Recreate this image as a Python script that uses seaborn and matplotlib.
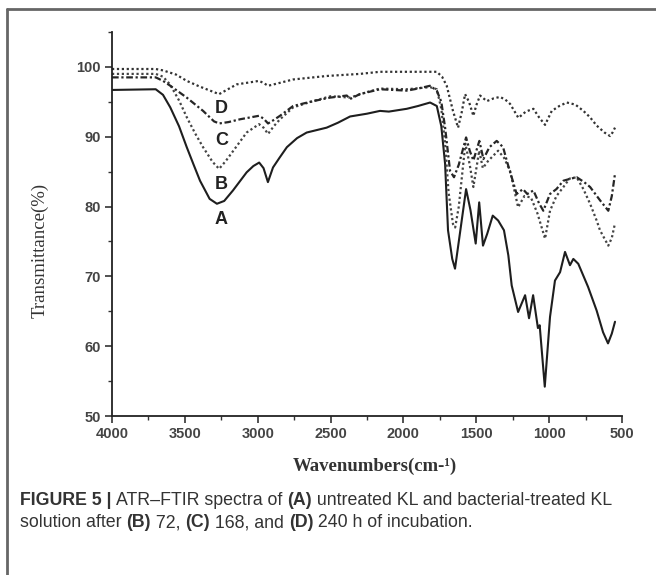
import matplotlib
matplotlib.use("Agg")
import matplotlib.pyplot as plt
from matplotlib.lines import Line2D
from matplotlib.ticker import MultipleLocator
import seaborn as sns
import pandas as pd

# spectrum A: untreated KL
wn_a = [4000, 3700, 3650, 3600, 3540, 3487, 3440, 3396, 3330, 3280, 3230, 3170, 3076, 3030,
        2990, 2960, 2930, 2895, 2850, 2800, 2730, 2664, 2527, 2450, 2366, 2250, 2161, 2100,
        1977, 1900, 1817, 1771, 1740, 1714, 1694, 1665, 1646, 1610, 1570, 1540, 1504, 1480,
        1454, 1425, 1387, 1350, 1310, 1280, 1257, 1213, 1165, 1138, 1110, 1077, 1065, 1030,
        994, 960, 925, 891, 857, 834, 800, 733, 674, 630, 596, 570, 548]
t_a = [96.7, 96.8, 96.0, 94.2, 91.5, 88.5, 86.0, 83.7, 81.1, 80.4, 80.8, 82.3, 84.9, 85.8,
       86.3, 85.5, 83.5, 85.6, 87.0, 88.5, 89.8, 90.6, 91.3, 92.0, 92.9, 93.3, 93.7, 93.6,
       94.0, 94.4, 94.9, 94.4, 91.5, 86.1, 76.6, 72.5, 71.1, 76.5, 82.5, 79.5, 74.7, 80.6,
       74.4, 76.1, 78.7, 78.0, 76.6, 73.0, 68.7, 64.9, 67.3, 64.0, 67.3, 62.6, 63.0, 54.2,
       64.2, 69.4, 70.6, 73.5, 71.6, 72.5, 71.8, 68.5, 65.1, 62.0, 60.4, 61.8, 63.5]

# spectrum B: 72 h
wn_b = [4000, 3700, 3650, 3602, 3540, 3487, 3430, 3375, 3310, 3265, 3220, 3167, 3076, 2991,
        2960, 2929, 2890, 2847, 2757, 2620, 2500, 2366, 2250, 2161, 1977, 1817, 1771, 1740,
        1714, 1690, 1660, 1645, 1620, 1575, 1545, 1520, 1480, 1455, 1420, 1350, 1310, 1268,
        1213, 1170, 1125, 1080, 1028, 994, 950, 902, 860, 811, 765, 719, 674, 651, 594, 570, 548]
t_b = [99.0, 99.0, 98.6, 97.5, 95.2, 92.8, 90.5, 88.5, 86.4, 85.4, 86.5, 88.0, 90.6, 91.8,
       91.3, 90.4, 91.5, 92.5, 94.2, 95.1, 95.8, 95.6, 96.4, 96.9, 96.8, 97.1, 96.8, 94.0,
       89.0, 82.0, 77.5, 77.0, 80.0, 89.0, 86.0, 82.8, 88.0, 85.5, 86.5, 88.0, 87.0, 85.1,
       79.9, 81.5, 81.3, 79.0, 75.4, 79.4, 81.5, 82.8, 84.0, 84.2, 82.5, 80.4, 78.0, 76.6,
       74.4, 75.5, 77.6]

# spectrum C: 168 h
wn_c = [4000, 3700, 3650, 3600, 3487, 3375, 3300, 3265, 3200, 3121, 2991, 2960, 2929, 2890,
        2847, 2757, 2620, 2504, 2389, 2366, 2300, 2161, 1977, 1900, 1817, 1771, 1740, 1714,
        1680, 1653, 1620, 1570, 1545, 1520, 1479, 1451, 1410, 1360, 1316, 1290, 1257, 1223,
        1180, 1150, 1108, 1070, 1040, 994, 950, 902, 850, 811, 760, 719, 651, 594, 570, 548]
t_c = [98.5, 98.5, 98.0, 97.3, 95.6, 93.7, 92.2, 91.9, 92.1, 92.5, 93.0, 92.6, 91.9, 92.4,
       93.0, 94.4, 95.1, 95.6, 95.9, 95.4, 96.1, 96.8, 96.6, 96.9, 97.3, 96.6, 95.0, 91.3,
       85.1, 84.2, 86.0, 89.9, 88.0, 86.6, 89.4, 86.8, 88.5, 89.4, 88.5, 86.5, 84.2, 81.8,
       82.5, 81.8, 82.3, 80.5, 79.4, 81.8, 82.5, 83.7, 84.0, 84.2, 83.5, 82.8, 80.9, 79.4,
       81.5, 84.7]

# spectrum D: 240 h
wn_d = [4000, 3700, 3650, 3560, 3487, 3400, 3265, 3144, 3050, 2991, 2960, 2929, 2870, 2757,
        2527, 2298, 2161, 1900, 1771, 1735, 1703, 1660, 1625, 1600, 1577, 1550, 1520, 1500,
        1474, 1428, 1380, 1337, 1300, 1268, 1211, 1160, 1108, 1070, 1028, 982, 930, 879,
        820, 765, 720, 674, 620, 582, 565, 548]
t_d = [99.7, 99.7, 99.5, 98.9, 98.0, 97.2, 96.1, 97.5, 97.8, 98.0, 97.7, 97.3, 97.6, 98.2,
       98.7, 99.0, 99.3, 99.3, 99.3, 98.6, 97.3, 93.7, 91.3, 93.5, 96.1, 95.0, 93.0, 94.5,
       95.9, 95.1, 95.5, 95.7, 95.3, 94.7, 92.7, 93.6, 94.0, 92.8, 91.7, 93.7, 94.4, 94.9,
       94.6, 93.7, 92.8, 91.6, 90.6, 90.1, 90.6, 91.3]

labels = ["A", "B", "C", "D"]
label_pos = [(3250, 78.2), (3250, 83.2), (3250, 89.4), (3250, 94.1)]

frames = []
for name, w, t in zip(labels, [wn_a, wn_b, wn_c, wn_d], [t_a, t_b, t_c, t_d]):
    frames.append(pd.DataFrame({"wn": w, "T": t, "sample": name}))
df = pd.concat(frames, ignore_index=True)

sns.set_style("ticks")
plt.rcParams["font.family"] = ["Liberation Sans", "DejaVu Sans"]

fig = plt.figure(figsize=(6.56, 5.75), dpi=100)
ax = fig.add_axes([112 / 656, 1 - 416 / 575, 510 / 656, 384 / 575])

styles = {"A": "-", "B": (0, (1, 1.2)), "C": (0, (3, 1.2, 1, 1.2)), "D": (0, (1, 1.2))}
colors = {"A": "#1e1e1e", "B": "#444444", "C": "#262626", "D": "#333333"}
for name in labels:
    sns.lineplot(data=df[df["sample"] == name], x="wn", y="T", ax=ax, sort=False,
                 color=colors[name], linewidth=1.5 if name == "A" else 1.6,
                 linestyle=styles[name], legend=False)

for name, (x, y) in zip(labels, label_pos):
    ax.text(x, y, name, ha="center", va="center", fontsize=13, fontweight="bold",
            color="#222222")

ax.set_xlim(4000, 500)
ax.set_ylim(50, 105)
ax.xaxis.set_major_locator(MultipleLocator(500))
ax.xaxis.set_minor_locator(MultipleLocator(250))
ax.yaxis.set_minor_locator(MultipleLocator(5))
ax.set_yticks([50, 60, 70, 80, 90, 100])
ax.tick_params(which="major", direction="out", length=5, width=1.2, colors="#333333",
               labelsize=10.5, pad=3)
ax.tick_params(which="minor", direction="out", length=3, width=1.0, colors="#333333")
for lab in ax.get_xticklabels() + ax.get_yticklabels():
    lab.set_fontweight("bold")
    lab.set_color("#444444")
sns.despine(ax=ax)
for s in ["left", "bottom"]:
    ax.spines[s].set_linewidth(1.3)
    ax.spines[s].set_color("#222222")

ax.set_xlabel("Wavenumbers(cm-\u00b9)", family="Liberation Serif", fontsize=13.5,
              fontweight="bold", color="#333333", va="center")
ax.set_ylabel("Transmittance(%)", family="Liberation Serif", fontsize=13.5,
              color="#333333", va="center")
ax.xaxis.set_label_coords((375 - 112) / 510, (416 - 466) / 384)
ax.yaxis.set_label_coords((40 - 112) / 510, (416 - 250) / 384)

# outer frame of the figure panel
fig.add_artist(Line2D([7 / 656, 1], [1 - 9 / 575, 1 - 9 / 575], color="#666666", lw=2))
fig.add_artist(Line2D([7 / 656, 7 / 656], [0, 1 - 9 / 575], color="#666666", lw=2))

# caption with bold runs
fig.canvas.draw()
renderer = fig.canvas.get_renderer()


def caption_line(runs, x0, y0):
    x = x0
    for txt, bold in runs:
        t = fig.text(x / 656, 1 - y0 / 575, txt, fontsize=12.8, va="baseline", ha="left",
                     fontweight="bold" if bold else "normal", color="#333333")
        bb = t.get_window_extent(renderer)
        x += bb.width


caption_line([("FIGURE 5 | ", True), ("ATR\u2013FTIR spectra of ", False), ("(A)", True),
              (" untreated KL and bacterial-treated KL", False)], 20, 505)
caption_line([("solution after ", False), ("(B)", True), (" 72, ", False), ("(C)", True),
              (" 168, and ", False), ("(D)", True), (" 240 h of incubation.", False)], 20, 527)

fig.savefig("out.png", dpi=100, facecolor="white")
